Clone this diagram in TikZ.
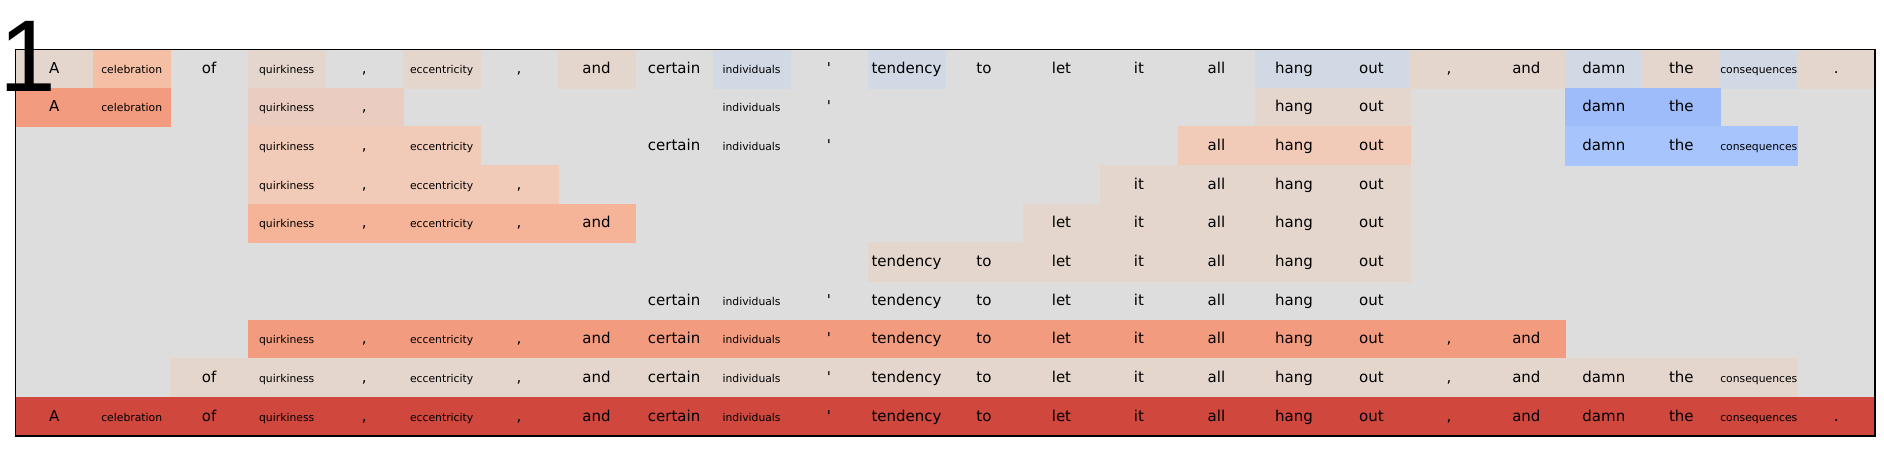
\documentclass[tikz,border=0pt]{standalone}
\usepackage{fontspec}
\setmainfont{DejaVu Sans}
\newfontfamily\numfont{Liberation Sans}
\usetikzlibrary{positioning}

\definecolor{bggray}{HTML}{DDDDDD}
\definecolor{beige}{HTML}{E4D6CD}
\definecolor{bluegray}{HTML}{D1D9E5}
\definecolor{peach}{HTML}{F4BFA5}
\definecolor{salmon}{HTML}{F39B7E}
\definecolor{pinkq}{HTML}{EACDC0}
\definecolor{apricot}{HTML}{F1CBB7}
\definecolor{coral}{HTML}{F5B498}
\definecolor{blueA}{HTML}{9EBCFA}
\definecolor{blueB}{HTML}{A7C4FC}
\definecolor{brick}{HTML}{D0473D}

\begin{document}
\begin{tikzpicture}[x = 38.74pt, y = 19.33pt, % one cell per unit
                tint/.style = {fill = #1, draw = #1} % cell colour
            ]

            \tikzstyle{cell}=[minimum width = 38.74pt, minimum height = 19.33pt,
            inner sep = 0pt, outer sep = 0pt, line width = 0.2pt,
            text height = 6pt, text depth = 1.5pt,
            font = \fontsize{7.5}{9}\selectfont]
            \tikzstyle{small}=[font = \fontsize{5.4}{6}\selectfont]

            \useasboundingbox (-0.2,-10.388) rectangle (24.116,1.275);
            \fill[bggray] (0,0) rectangle (24,-10);

            % row 1
            \node[cell, tint=beige] (r1c1) at (0.5,-0.5) {A};
            \node[cell, small, tint=peach] (r1c2) at (1.5,-0.5) {celebration};
            \node[cell] (r1c3) at (2.5,-0.5) {of};
            \node[cell, small, tint=beige] (r1c4) at (3.5,-0.5) {quirkiness};
            \node[cell] (r1c5) at (4.5,-0.5) {,};
            \node[cell, small, tint=beige] (r1c6) at (5.5,-0.5) {eccentricity};
            \node[cell] (r1c7) at (6.5,-0.5) {,};
            \node[cell, tint=beige] (r1c8) at (7.5,-0.5) {and};
            \node[cell] (r1c9) at (8.5,-0.5) {certain};
            \node[cell, small, tint=bluegray] (r1c10) at (9.5,-0.5) {individuals};
            \node[cell] (r1c11) at (10.5,-0.5) {\textquotesingle};
            \node[cell, tint=bluegray] (r1c12) at (11.5,-0.5) {tendency};
            \node[cell] (r1c13) at (12.5,-0.5) {to};
            \node[cell] (r1c14) at (13.5,-0.5) {let};
            \node[cell] (r1c15) at (14.5,-0.5) {it};
            \node[cell] (r1c16) at (15.5,-0.5) {all};
            \node[cell, tint=bluegray] (r1c17) at (16.5,-0.5) {hang};
            \node[cell, tint=bluegray] (r1c18) at (17.5,-0.5) {out};
            \node[cell, tint=beige] (r1c19) at (18.5,-0.5) {,};
            \node[cell, tint=beige] (r1c20) at (19.5,-0.5) {and};
            \node[cell, tint=bluegray] (r1c21) at (20.5,-0.5) {damn};
            \node[cell, tint=beige] (r1c22) at (21.5,-0.5) {the};
            \node[cell, small, tint=bluegray] (r1c23) at (22.5,-0.5) {consequences};
            \node[cell, tint=beige] (r1c24) at (23.5,-0.5) {.};

            % row 2
            \node[cell, tint=salmon] (r2c1) at (0.5,-1.5) {A};
            \node[cell, small, tint=salmon] (r2c2) at (1.5,-1.5) {celebration};
            \node[cell, small, tint=pinkq] (r2c4) at (3.5,-1.5) {quirkiness};
            \node[cell, tint=pinkq] (r2c5) at (4.5,-1.5) {,};
            \node[cell, small] (r2c10) at (9.5,-1.5) {individuals};
            \node[cell] (r2c11) at (10.5,-1.5) {\textquotesingle};
            \node[cell, tint=beige] (r2c17) at (16.5,-1.5) {hang};
            \node[cell, tint=beige] (r2c18) at (17.5,-1.5) {out};
            \node[cell, tint=blueA] (r2c21) at (20.5,-1.5) {damn};
            \node[cell, tint=blueA] (r2c22) at (21.5,-1.5) {the};

            % row 3
            \node[cell, small, tint=apricot] (r3c4) at (3.5,-2.5) {quirkiness};
            \node[cell, tint=apricot] (r3c5) at (4.5,-2.5) {,};
            \node[cell, small, tint=apricot] (r3c6) at (5.5,-2.5) {eccentricity};
            \node[cell] (r3c9) at (8.5,-2.5) {certain};
            \node[cell, small] (r3c10) at (9.5,-2.5) {individuals};
            \node[cell] (r3c11) at (10.5,-2.5) {\textquotesingle};
            \node[cell, tint=apricot] (r3c16) at (15.5,-2.5) {all};
            \node[cell, tint=apricot] (r3c17) at (16.5,-2.5) {hang};
            \node[cell, tint=apricot] (r3c18) at (17.5,-2.5) {out};
            \node[cell, tint=blueB] (r3c21) at (20.5,-2.5) {damn};
            \node[cell, tint=blueB] (r3c22) at (21.5,-2.5) {the};
            \node[cell, small, tint=blueB] (r3c23) at (22.5,-2.5) {consequences};

            % row 4
            \node[cell, small, tint=apricot] (r4c4) at (3.5,-3.5) {quirkiness};
            \node[cell, tint=apricot] (r4c5) at (4.5,-3.5) {,};
            \node[cell, small, tint=apricot] (r4c6) at (5.5,-3.5) {eccentricity};
            \node[cell, tint=apricot] (r4c7) at (6.5,-3.5) {,};
            \node[cell, tint=beige] (r4c15) at (14.5,-3.5) {it};
            \node[cell, tint=beige] (r4c16) at (15.5,-3.5) {all};
            \node[cell, tint=beige] (r4c17) at (16.5,-3.5) {hang};
            \node[cell, tint=beige] (r4c18) at (17.5,-3.5) {out};

            % row 5
            \node[cell, small, tint=coral] (r5c4) at (3.5,-4.5) {quirkiness};
            \node[cell, tint=coral] (r5c5) at (4.5,-4.5) {,};
            \node[cell, small, tint=coral] (r5c6) at (5.5,-4.5) {eccentricity};
            \node[cell, tint=coral] (r5c7) at (6.5,-4.5) {,};
            \node[cell, tint=coral] (r5c8) at (7.5,-4.5) {and};
            \node[cell, tint=beige] (r5c14) at (13.5,-4.5) {let};
            \node[cell, tint=beige] (r5c15) at (14.5,-4.5) {it};
            \node[cell, tint=beige] (r5c16) at (15.5,-4.5) {all};
            \node[cell, tint=beige] (r5c17) at (16.5,-4.5) {hang};
            \node[cell, tint=beige] (r5c18) at (17.5,-4.5) {out};

            % row 6
            \node[cell, tint=beige] (r6c12) at (11.5,-5.5) {tendency};
            \node[cell, tint=beige] (r6c13) at (12.5,-5.5) {to};
            \node[cell, tint=beige] (r6c14) at (13.5,-5.5) {let};
            \node[cell, tint=beige] (r6c15) at (14.5,-5.5) {it};
            \node[cell, tint=beige] (r6c16) at (15.5,-5.5) {all};
            \node[cell, tint=beige] (r6c17) at (16.5,-5.5) {hang};
            \node[cell, tint=beige] (r6c18) at (17.5,-5.5) {out};

            % row 7
            \node[cell] (r7c9) at (8.5,-6.5) {certain};
            \node[cell, small] (r7c10) at (9.5,-6.5) {individuals};
            \node[cell] (r7c11) at (10.5,-6.5) {\textquotesingle};
            \node[cell] (r7c12) at (11.5,-6.5) {tendency};
            \node[cell] (r7c13) at (12.5,-6.5) {to};
            \node[cell] (r7c14) at (13.5,-6.5) {let};
            \node[cell] (r7c15) at (14.5,-6.5) {it};
            \node[cell] (r7c16) at (15.5,-6.5) {all};
            \node[cell] (r7c17) at (16.5,-6.5) {hang};
            \node[cell] (r7c18) at (17.5,-6.5) {out};

            % row 8
            \node[cell, small, tint=salmon] (r8c4) at (3.5,-7.5) {quirkiness};
            \node[cell, tint=salmon] (r8c5) at (4.5,-7.5) {,};
            \node[cell, small, tint=salmon] (r8c6) at (5.5,-7.5) {eccentricity};
            \node[cell, tint=salmon] (r8c7) at (6.5,-7.5) {,};
            \node[cell, tint=salmon] (r8c8) at (7.5,-7.5) {and};
            \node[cell, tint=salmon] (r8c9) at (8.5,-7.5) {certain};
            \node[cell, small, tint=salmon] (r8c10) at (9.5,-7.5) {individuals};
            \node[cell, tint=salmon] (r8c11) at (10.5,-7.5) {\textquotesingle};
            \node[cell, tint=salmon] (r8c12) at (11.5,-7.5) {tendency};
            \node[cell, tint=salmon] (r8c13) at (12.5,-7.5) {to};
            \node[cell, tint=salmon] (r8c14) at (13.5,-7.5) {let};
            \node[cell, tint=salmon] (r8c15) at (14.5,-7.5) {it};
            \node[cell, tint=salmon] (r8c16) at (15.5,-7.5) {all};
            \node[cell, tint=salmon] (r8c17) at (16.5,-7.5) {hang};
            \node[cell, tint=salmon] (r8c18) at (17.5,-7.5) {out};
            \node[cell, tint=salmon] (r8c19) at (18.5,-7.5) {,};
            \node[cell, tint=salmon] (r8c20) at (19.5,-7.5) {and};

            % row 9
            \node[cell, tint=beige] (r9c3) at (2.5,-8.5) {of};
            \node[cell, small, tint=beige] (r9c4) at (3.5,-8.5) {quirkiness};
            \node[cell, tint=beige] (r9c5) at (4.5,-8.5) {,};
            \node[cell, small, tint=beige] (r9c6) at (5.5,-8.5) {eccentricity};
            \node[cell, tint=beige] (r9c7) at (6.5,-8.5) {,};
            \node[cell, tint=beige] (r9c8) at (7.5,-8.5) {and};
            \node[cell, tint=beige] (r9c9) at (8.5,-8.5) {certain};
            \node[cell, small, tint=beige] (r9c10) at (9.5,-8.5) {individuals};
            \node[cell, tint=beige] (r9c11) at (10.5,-8.5) {\textquotesingle};
            \node[cell, tint=beige] (r9c12) at (11.5,-8.5) {tendency};
            \node[cell, tint=beige] (r9c13) at (12.5,-8.5) {to};
            \node[cell, tint=beige] (r9c14) at (13.5,-8.5) {let};
            \node[cell, tint=beige] (r9c15) at (14.5,-8.5) {it};
            \node[cell, tint=beige] (r9c16) at (15.5,-8.5) {all};
            \node[cell, tint=beige] (r9c17) at (16.5,-8.5) {hang};
            \node[cell, tint=beige] (r9c18) at (17.5,-8.5) {out};
            \node[cell, tint=beige] (r9c19) at (18.5,-8.5) {,};
            \node[cell, tint=beige] (r9c20) at (19.5,-8.5) {and};
            \node[cell, tint=beige] (r9c21) at (20.5,-8.5) {damn};
            \node[cell, tint=beige] (r9c22) at (21.5,-8.5) {the};
            \node[cell, small, tint=beige] (r9c23) at (22.5,-8.5) {consequences};

            % row 10
            \node[cell, tint=brick] (r10c1) at (0.5,-9.5) {A};
            \node[cell, small, tint=brick] (r10c2) at (1.5,-9.5) {celebration};
            \node[cell, tint=brick] (r10c3) at (2.5,-9.5) {of};
            \node[cell, small, tint=brick] (r10c4) at (3.5,-9.5) {quirkiness};
            \node[cell, tint=brick] (r10c5) at (4.5,-9.5) {,};
            \node[cell, small, tint=brick] (r10c6) at (5.5,-9.5) {eccentricity};
            \node[cell, tint=brick] (r10c7) at (6.5,-9.5) {,};
            \node[cell, tint=brick] (r10c8) at (7.5,-9.5) {and};
            \node[cell, tint=brick] (r10c9) at (8.5,-9.5) {certain};
            \node[cell, small, tint=brick] (r10c10) at (9.5,-9.5) {individuals};
            \node[cell, tint=brick] (r10c11) at (10.5,-9.5) {\textquotesingle};
            \node[cell, tint=brick] (r10c12) at (11.5,-9.5) {tendency};
            \node[cell, tint=brick] (r10c13) at (12.5,-9.5) {to};
            \node[cell, tint=brick] (r10c14) at (13.5,-9.5) {let};
            \node[cell, tint=brick] (r10c15) at (14.5,-9.5) {it};
            \node[cell, tint=brick] (r10c16) at (15.5,-9.5) {all};
            \node[cell, tint=brick] (r10c17) at (16.5,-9.5) {hang};
            \node[cell, tint=brick] (r10c18) at (17.5,-9.5) {out};
            \node[cell, tint=brick] (r10c19) at (18.5,-9.5) {,};
            \node[cell, tint=brick] (r10c20) at (19.5,-9.5) {and};
            \node[cell, tint=brick] (r10c21) at (20.5,-9.5) {damn};
            \node[cell, tint=brick] (r10c22) at (21.5,-9.5) {the};
            \node[cell, small, tint=brick] (r10c23) at (22.5,-9.5) {consequences};
            \node[cell, tint=brick] (r10c24) at (23.5,-9.5) {.};

            % frame and panel number
            \draw[line width = 0.7pt] (0,0) rectangle (24,-10);
            \node[anchor = base west, inner sep = 0pt,
            font = \numfont\fontsize{51}{51}\selectfont] (panel) at (-0.2145,-1.079) {1};
\end{tikzpicture}
\end{document}
